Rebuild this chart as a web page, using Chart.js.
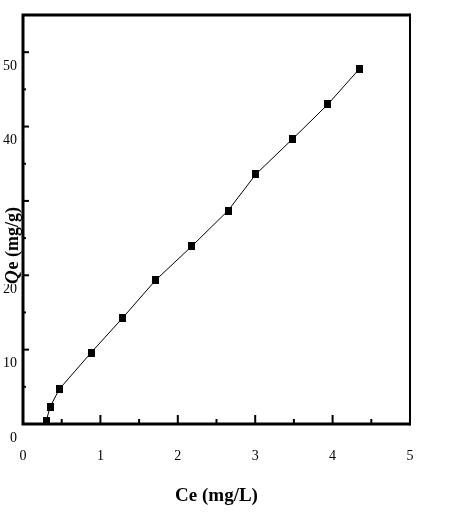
<!DOCTYPE html>
<html>
<head>
<meta charset="utf-8">
<script src="https://cdn.jsdelivr.net/npm/chart.js@4/dist/chart.umd.min.js"></script>
<style>
  html, body { margin: 0; padding: 0; background: #fff; }
</style>
</head>
<body>
<canvas id="chart" width="455" height="512"></canvas>
<script>
// values
const ce = [0.30, 0.35, 0.47, 0.88, 1.29, 1.71, 2.18, 2.65, 3.01, 3.48, 3.94, 4.35];
const qe = [0.4, 2.3, 4.7, 9.6, 14.3, 19.3, 23.9, 28.7, 33.6, 38.3, 43.0, 47.8];

const xTicks = [0, 1, 2, 3, 4, 5];
const xMinorTicks = [0.5, 1.5, 2.5, 3.5, 4.5];
const yTicks = [0, 10, 20, 30, 40, 50];
const yMinorTicks = [5, 15, 25, 35, 45];

const serif = '"Liberation Serif", "Times New Roman", serif';

// frame, inward ticks and the overlapping y title (like the scan)
const framePlugin = {
    id: 'frame',
    afterDraw(chart) {
        const ctx = chart.ctx;
        const a = chart.chartArea;
        const xs = chart.scales.x;
        const ys = chart.scales.y;
        ctx.save();

        // y title drawn over the tick labels
        ctx.translate(13, 246);
        ctx.rotate(-Math.PI / 2);
        ctx.fillStyle = '#fff';
        ctx.fillRect(-38, -10, 78, 20);
        ctx.fillStyle = '#000';
        ctx.textBaseline = 'middle';
        ctx.textAlign = 'left';
        const fQ = 'italic bold 19px ' + serif;
        const fRest = 'bold 18px ' + serif;
        ctx.font = fQ;
        const wQ = ctx.measureText('Q').width;
        ctx.font = fRest;
        const wRest = ctx.measureText('e (mg/g)').width;
        let start = -(wQ + wRest) / 2;
        ctx.font = fQ;
        ctx.fillText('Q', start, 0);
        ctx.font = fRest;
        ctx.fillText('e (mg/g)', start + wQ + 1, 0);
        ctx.setTransform(1, 0, 0, 1, 0, 0);

        ctx.strokeStyle = '#000';
        ctx.lineCap = 'butt';

        // inward ticks
        ctx.lineWidth = 2;
        yTicks.forEach(v => {
            const y = ys.getPixelForValue(v);
            ctx.beginPath(); ctx.moveTo(a.left, y); ctx.lineTo(a.left + 6, y); ctx.stroke();
        });
        yMinorTicks.forEach(v => {
            const y = ys.getPixelForValue(v);
            ctx.beginPath(); ctx.moveTo(a.left, y); ctx.lineTo(a.left + 3, y); ctx.stroke();
        });
        xTicks.forEach(v => {
            const x = xs.getPixelForValue(v);
            ctx.beginPath(); ctx.moveTo(x, a.bottom); ctx.lineTo(x, a.bottom - 9); ctx.stroke();
        });
        xMinorTicks.forEach(v => {
            const x = xs.getPixelForValue(v);
            ctx.beginPath(); ctx.moveTo(x, a.bottom); ctx.lineTo(x, a.bottom - 5); ctx.stroke();
        });

        // frame
        ctx.lineWidth = 3;
        ctx.beginPath();
        ctx.moveTo(a.right, a.top);
        ctx.lineTo(a.left, a.top);
        ctx.lineTo(a.left, a.bottom);
        ctx.lineTo(a.right, a.bottom);
        ctx.stroke();
        ctx.lineWidth = 2;
        ctx.beginPath();
        ctx.moveTo(a.right, a.top - 1.5);
        ctx.lineTo(a.right, a.bottom + 1.5);
        ctx.stroke();
        ctx.restore();
    }
};

// slightly tall square marker, like the scan
const marker = document.createElement('canvas');
marker.width = 7;
marker.height = 8;
const mctx = marker.getContext('2d');
mctx.fillStyle = '#000';
mctx.fillRect(0, 0, 7, 8);

const ctx = document.getElementById('chart').getContext('2d');
const chart = new Chart(ctx, {
    type: 'scatter',
    data: {
        datasets: [{
            data: ce.map((c, i) => ({ x: c, y: qe[i] })),
            showLine: true,
            borderColor: '#000',
            borderWidth: 1,
            backgroundColor: '#000',
            pointStyle: marker,
            pointRadius: 5,
            pointBorderWidth: 0,
            tension: 0
        }]
    },
    options: {
        responsive: false,
        animation: false,
        devicePixelRatio: 1,
        layout: { padding: { left: 0, top: 15, right: 45, bottom: 0 } },
        plugins: {
            legend: { display: false },
            tooltip: { enabled: false }
        },
        scales: {
            x: {
                type: 'linear',
                min: 0,
                max: 5,
                afterBuildTicks: s => { s.ticks = xTicks.map(v => ({ value: v })); },
                afterFit: s => { s.height = 88; s.paddingLeft = 0; s.paddingRight = 0; },
                grid: { display: false, drawTicks: false },
                border: { display: false },
                ticks: {
                    autoSkip: false,
                    maxRotation: 0,
                    padding: 24,
                    color: '#000',
                    font: { family: serif, size: 14 }
                },
                title: {
                    display: true,
                    text: 'Ce (mg/L)',
                    color: '#000',
                    font: { family: serif, size: 19, weight: 'bold' },
                    padding: { top: 0, bottom: 5 }
                }
            },
            y: {
                type: 'linear',
                min: 0,
                max: 55,
                afterBuildTicks: s => { s.ticks = yTicks.map(v => ({ value: v })); },
                afterFit: s => { s.width = 23; s.paddingTop = 0; s.paddingBottom = 0; },
                grid: { display: false, drawTicks: false },
                border: { display: false },
                ticks: {
                    autoSkip: false,
                    padding: 6,
                    labelOffset: 14,
                    color: '#000',
                    font: { family: serif, size: 14 }
                }
            }
        }
    },
    plugins: [framePlugin]
});
</script>
</body>
</html>
